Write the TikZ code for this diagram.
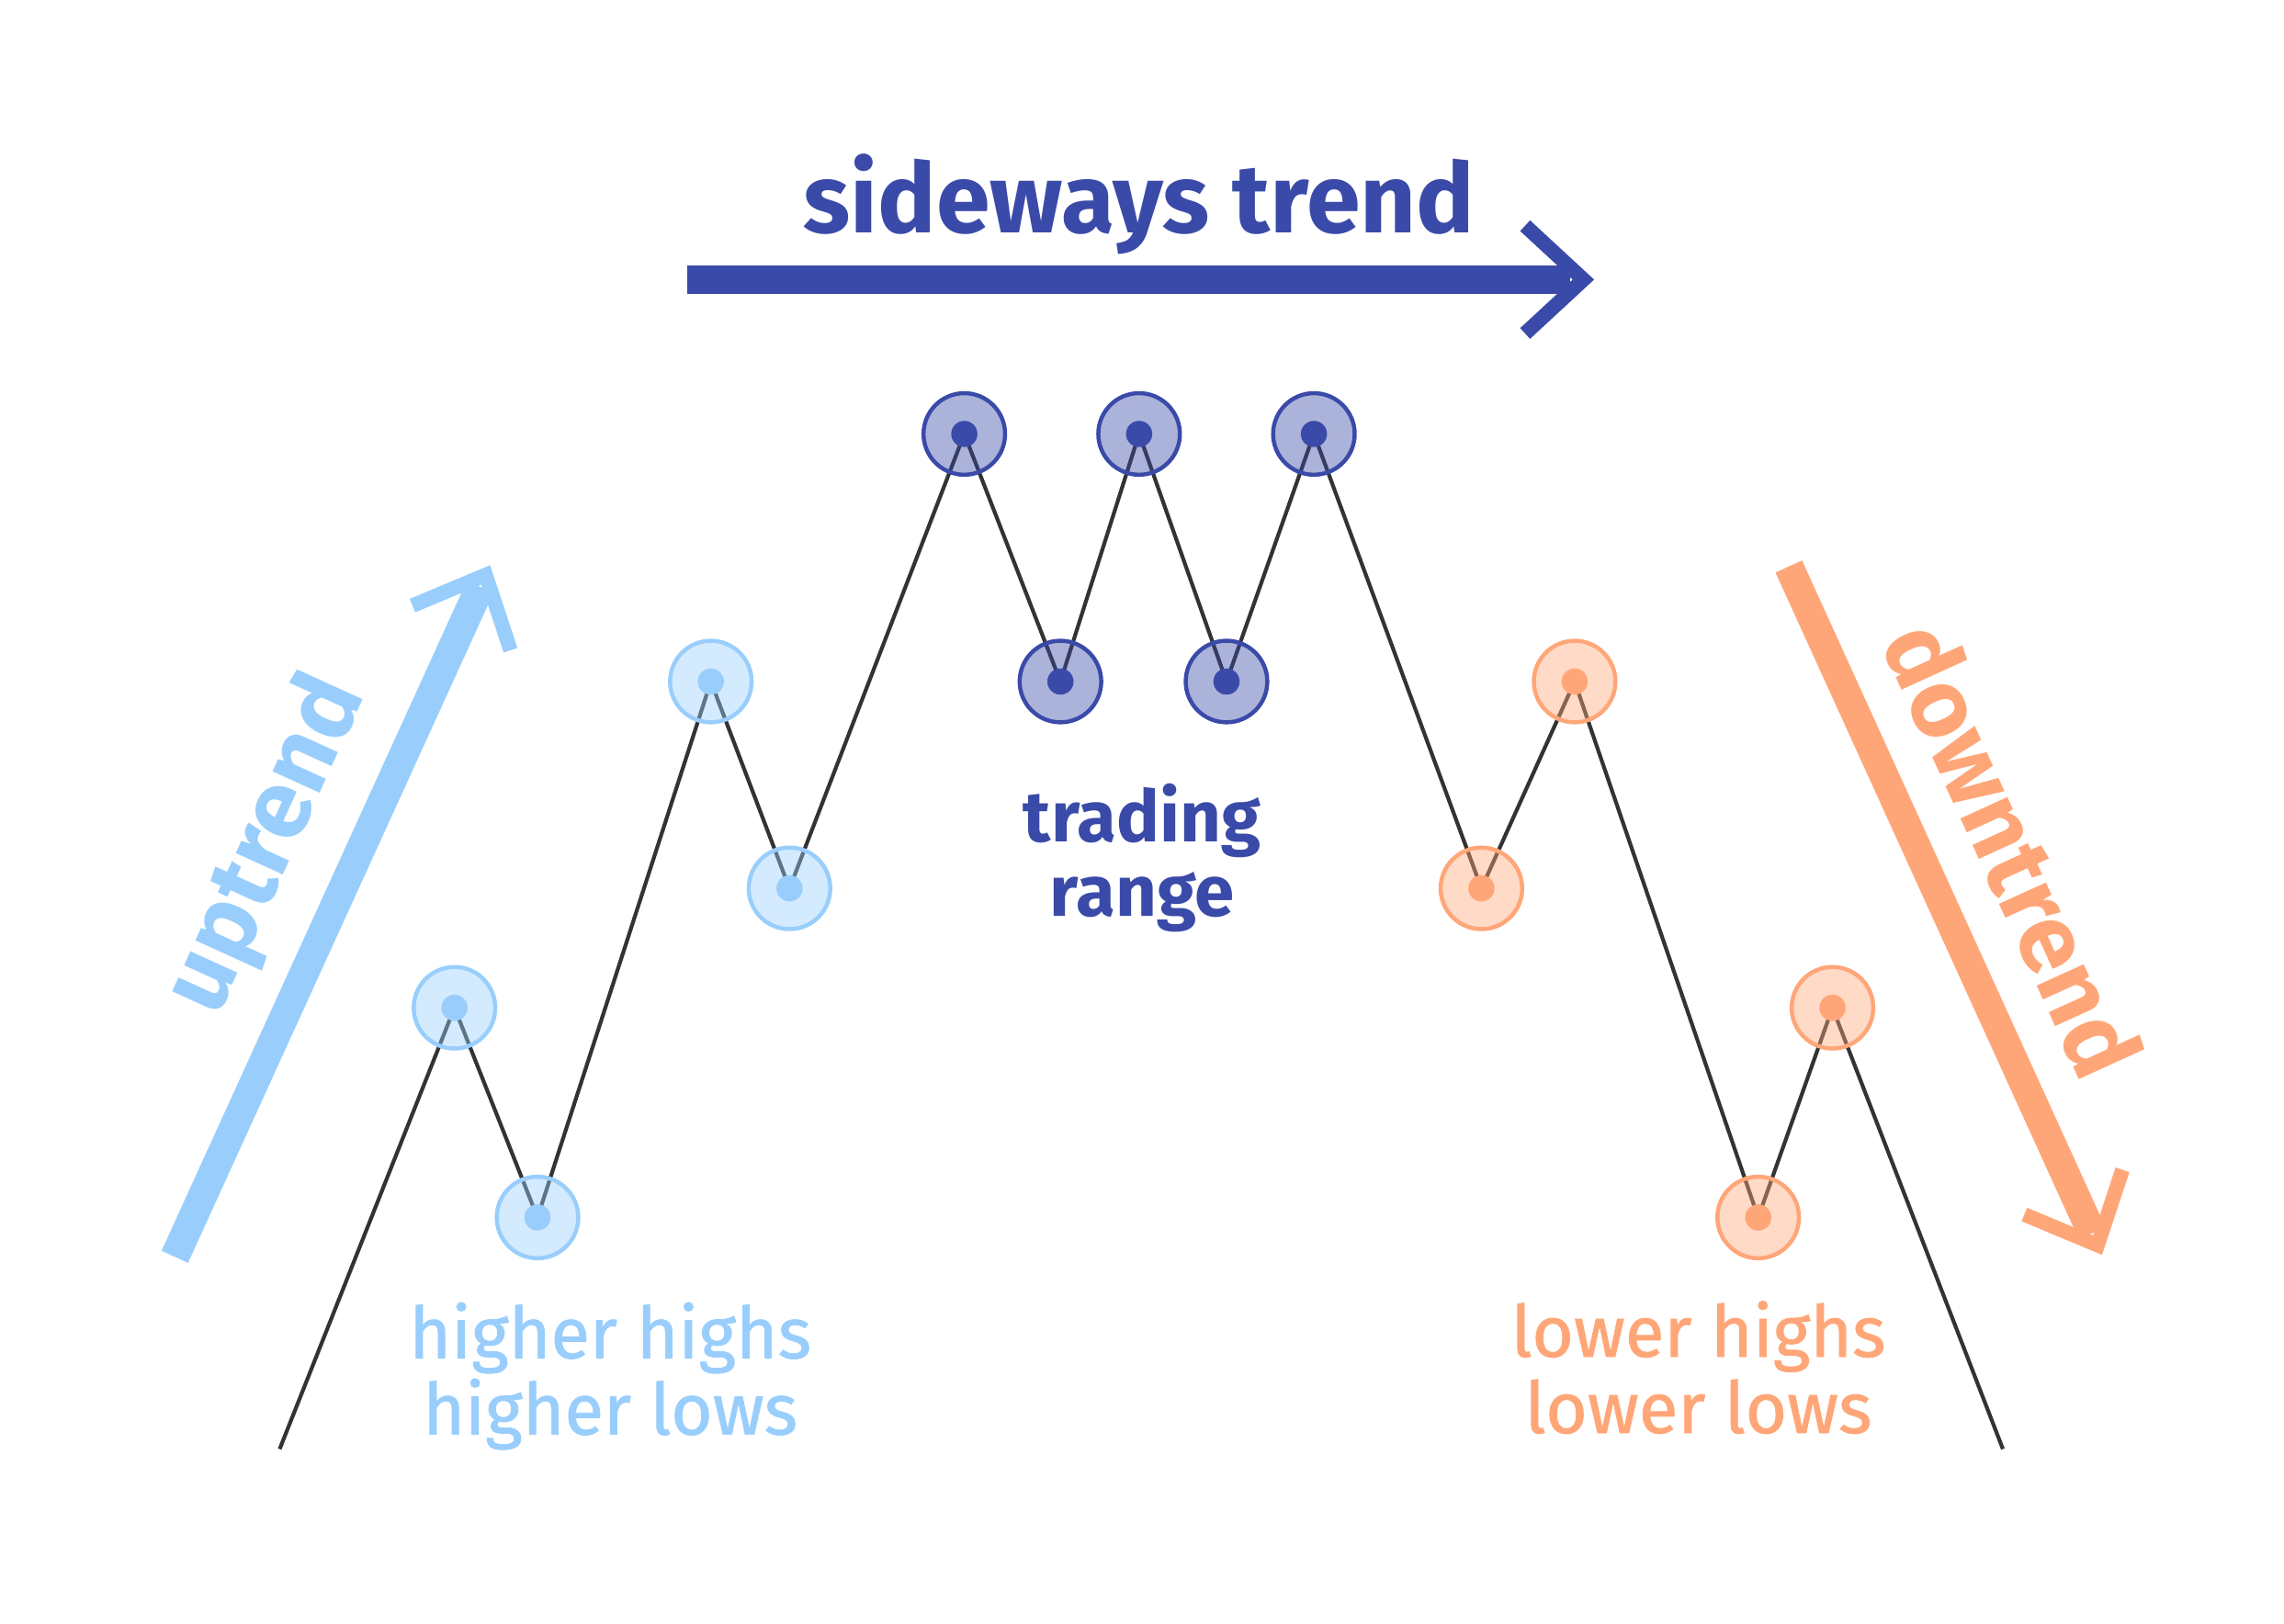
\documentclass[tikz,border=0pt]{standalone}
\usepackage{fontspec}
\setmainfont{Fira Sans}
\newfontfamily\semifont{Fira Sans}[FakeBold=1]
\usepackage{tikz}
\usetikzlibrary{positioning,backgrounds}

\definecolor{dblue}{RGB}{58,74,168}
\definecolor{lblue}{RGB}{153,206,252}
\definecolor{lorange}{RGB}{255,166,120}
\definecolor{zigline}{RGB}{51,51,51}

\tikzset{
  pt/.style={circle, minimum size=0.56cm, inner sep=0pt, line width=0.8pt, draw=#1, fill=#1, fill opacity=0.42,
    path picture={\fill[#1, fill opacity=1] (path picture bounding box.center) circle (0.09cm);}},
  zig/.style={zigline, line width=0.75pt},
  shaft/.style={line width=0.2cm, shorten >=0.09cm},
  chev/.pic={\draw[line width=0.1cm, line join=miter] (-0.40,0.37) -- (0,0) -- (-0.40,-0.37);},
  big/.style={font=\fontsize{19}{23}\selectfont\bfseries},
  small/.style={font=\fontsize{14}{14.9}\selectfont\semifont, align=center},
  smallbf/.style={font=\fontsize{14}{14.5}\selectfont\bfseries, align=center},
}

\begin{document}
\begin{tikzpicture}
\useasboundingbox (0,0) rectangle (15.68,11.15);

\coordinate (z0) at (1.92,1.20);
\coordinate (z1) at (13.75,1.20);
\foreach \n/\x/\y in {u1/3.12/4.23, u2/3.69/2.79, u3/4.88/6.47, u4/5.42/5.05}
  \node[pt=lblue] at (\x,\y)(\n){};
\foreach \n/\x/\y in {s1/6.62/8.17, s2/7.28/6.47, s3/7.82/8.17, s4/8.42/6.47, s5/9.02/8.17}
  \node[pt=dblue] at (\x,\y)(\n){};
\foreach \n/\x/\y in {d1/10.17/5.05, d2/10.81/6.47, d3/12.07/2.79, d4/12.58/4.23}
  \node[pt=lorange] at (\x,\y)(\n){};

\begin{scope}[on background layer]
\draw[zig] (z0) \foreach \n in {u1,u2,u3,u4,s1,s2,s3,s4,s5,d1,d2,d3,d4}{ -- (\n.center)} -- (z1);
\end{scope}

\coordinate (sw0) at (4.72,9.23);
\coordinate (sw1) at (10.87,9.23);
\draw[shaft, dblue] (sw0) -- (sw1);
\pic[dblue] at (sw1) {chev};

\coordinate (up0) at (1.20,2.52);
\coordinate (up1) at (3.334,7.202);
\draw[shaft, lblue] (up0) -- (up1);
\pic[lblue, rotate=65.5] at (up1) {chev};

\coordinate (dn0) at (12.28,7.26);
\coordinate (dn1) at (14.40,2.60);
\draw[shaft, lorange] (dn0) -- (dn1);
\pic[lorange, rotate=-65.5] at (dn1) {chev};

\node[big, dblue, anchor=base] at (7.82,9.55)(sideways){sideways trend};
\node[big, lblue, anchor=base, rotate=65.5] at (2.00,5.27)(uptrend){uptrend};
\node[big, lorange, anchor=base, rotate=-65.5] at (13.60,5.22)(downtrend){downtrend};
\node[smallbf, dblue, anchor=base] at (7.84,4.86)(range){trading\\range};
\node[small, lblue, anchor=base] at (4.19,1.30)(higher){higher highs\\higher lows};
\node[small, lorange, anchor=base] at (11.66,1.31)(lower){lower highs\\lower lows};
\end{tikzpicture}
\end{document}
